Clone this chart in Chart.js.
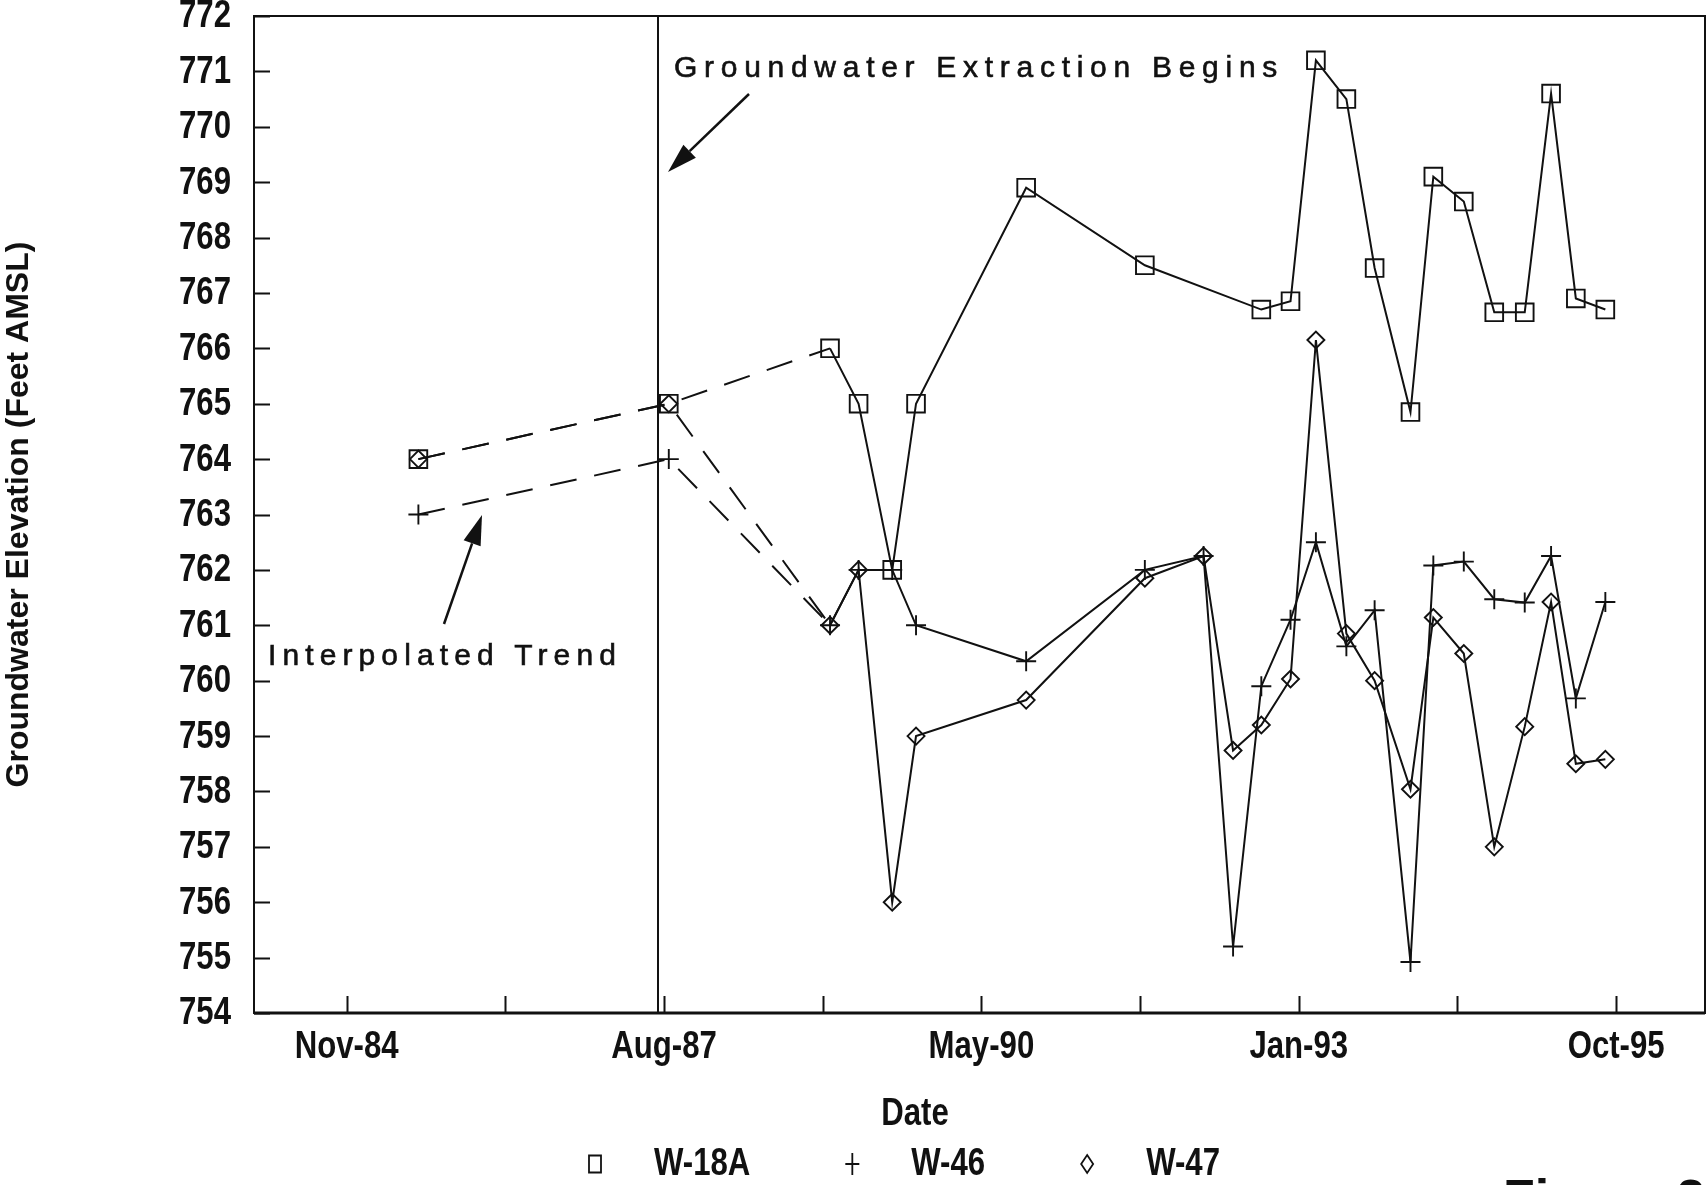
<!DOCTYPE html>
<html>
<head>
<meta charset="utf-8">
<title>Groundwater Elevation</title>
<script src="https://cdn.jsdelivr.net/npm/chart.js@4.4.1/dist/chart.umd.min.js"></script>
<style>
  html, body { margin: 0; padding: 0; background: #fff; }
  #wrap { width: 1708px; height: 1185px; }
</style>
</head>
<body>
<div id="wrap"><canvas id="chart" width="1708" height="1185"></canvas></div>
<script>
// sampling dates shared by the three wells
const sampleDates = [
  '1985-06-28', '1987-08-26', '1989-01-15', '1989-04-15', '1989-07-30', '1989-10-13',
  '1990-09-25', '1991-10-04', '1992-04-06', '1992-07-08', '1992-10-05', '1993-01-05',
  '1993-03-26', '1993-06-30', '1993-09-27', '1994-01-18', '1994-03-31', '1994-07-05',
  '1994-10-09', '1995-01-13', '1995-04-06', '1995-06-23', '1995-09-24'
];

// elevations, feet AMSL (null = not measured)
const w18a = [764.0, 765.0, 766.0, 765.0, 762.0, 765.0, 768.9, 767.5, null, null, 766.7, 766.85,
  771.2, 770.5, 767.45, 764.85, 769.1, 768.65, 766.65, 766.65, 770.6, 766.9, 766.7];
const w46 = [763.0, 764.0, 761.0, 762.0, 762.0, 761.0, 760.35, 762.0, 762.25, 755.2, 759.9, 761.1,
  762.5, 760.62, 761.27, 754.92, 762.08, 762.15, 761.47, 761.41, 762.25, 759.68, 761.42];
const w47 = [764.0, 765.0, 761.0, 762.0, 756.0, 759.0, 759.65, 761.85, 762.25, 758.74, 759.2, 760.03,
  766.15, 760.85, 760.0, 758.04, 761.14, 760.49, 757.0, 759.17, 761.42, 758.5, 758.58];

// date axis in spreadsheet day numbers, a tick every 500 days
const xMin = 30708, xMax = 35280;
const xTickValues = [31000, 31500, 32000, 32500, 33000, 33500, 34000, 34500, 35000];
const xTickLabels = ['Nov-84', '', 'Aug-87', '', 'May-90', '', 'Jan-93', '', 'Oct-95'];
const yMin = 754, yMax = 772;

const extractionStart = '1987-07-23';
const trendCount = 3; // first three samples are joined by the interpolated trend

function toSerial(s) {
  const [y, m, d] = s.split('-').map(Number);
  return Math.round((Date.UTC(y, m - 1, d) - Date.UTC(1899, 11, 30)) / 86400000);
}

function toPoints(values) {
  return sampleDates.map((d, i) => ({ x: toSerial(d), y: values[i] }))
    .filter(p => p.y !== null);
}

const INK = '#111';
const SANS = "'Liberation Sans', Arial, sans-serif";
const NARROW_FONT = 'bold 38px ' + SANS;
const SQUEEZE = 0.82; // Arial Narrow is Arial at 82% width

// bold narrow text: Liberation Sans squeezed horizontally
function narrowText(ctx, text, x, y, align) {
  ctx.save();
  ctx.font = NARROW_FONT;
  ctx.textAlign = align;
  ctx.textBaseline = 'middle';
  ctx.translate(x, y);
  ctx.scale(SQUEEZE, 1);
  ctx.fillText(text, 0, 0);
  ctx.restore();
}

function narrowWidth(ctx, text) {
  ctx.save();
  ctx.font = NARROW_FONT;
  const w = ctx.measureText(text).width * SQUEEZE;
  ctx.restore();
  return w;
}

function series(label, values, style, radius) {
  return {
    label,
    data: toPoints(values),
    borderColor: INK,
    borderWidth: 2,
    pointStyle: style,
    pointRadius: radius,
    pointHoverRadius: radius,
    pointBorderWidth: 1.9,
    pointBorderColor: INK,
    pointBackgroundColor: 'rgba(0,0,0,0)',
    tension: 0,
    clip: false,
    segment: {
      borderDash: ctx => ctx.p1DataIndex < trendCount ? [27, 18] : undefined
    }
  };
}

// box, inward tick marks, tick labels and the extraction start line
const frame = {
  id: 'frame',
  afterDatasetsDraw(chart) {
    const { ctx, chartArea: a, scales: { x, y } } = chart;
    ctx.save();
    ctx.strokeStyle = INK;
    ctx.fillStyle = INK;
    ctx.lineWidth = 2;
    ctx.strokeRect(a.left, a.top, a.right - a.left, a.bottom - a.top);
    ctx.beginPath();
    y.ticks.forEach(t => {
      const py = Math.round(y.getPixelForValue(t.value)) + 0.5;
      ctx.moveTo(a.left, py);
      ctx.lineTo(a.left + 16, py);
    });
    x.ticks.forEach(t => {
      const px = Math.round(x.getPixelForValue(t.value)) + 0.5;
      ctx.moveTo(px, a.bottom);
      ctx.lineTo(px, a.bottom - 17);
    });
    ctx.stroke();
    ctx.lineWidth = 3;
    ctx.beginPath();
    ctx.moveTo(a.left, a.bottom);
    ctx.lineTo(a.right, a.bottom);
    ctx.stroke();
    ctx.lineWidth = 2;
    const ex = x.getPixelForValue(toSerial(extractionStart));
    ctx.beginPath();
    ctx.moveTo(ex, a.top);
    ctx.lineTo(ex, a.bottom);
    ctx.stroke();

    y.ticks.forEach(t => {
      narrowText(ctx, String(t.value), a.left - 23, y.getPixelForValue(t.value) + 1, 'right');
    });
    x.ticks.forEach((t, i) => {
      if (xTickLabels[i]) narrowText(ctx, xTickLabels[i], x.getPixelForValue(t.value), a.bottom + 35, 'center');
    });
    narrowText(ctx, 'Date', 915, 1115, 'center');
    ctx.restore();
  }
};

function arrow(ctx, x0, y0, x1, y1) {
  const ang = Math.atan2(y1 - y0, x1 - x0);
  const len = 30, half = 9;
  const bx = x1 - Math.cos(ang) * len, by = y1 - Math.sin(ang) * len;
  ctx.beginPath();
  ctx.moveTo(x0, y0);
  ctx.lineTo(bx, by);
  ctx.stroke();
  ctx.beginPath();
  ctx.moveTo(x1, y1);
  ctx.lineTo(bx + Math.sin(ang) * half, by - Math.cos(ang) * half);
  ctx.lineTo(bx - Math.sin(ang) * half, by + Math.cos(ang) * half);
  ctx.closePath();
  ctx.fill();
}

// spaced-out label stretched over a given width
function spacedText(ctx, text, x, y, width) {
  ctx.letterSpacing = '0px';
  const natural = ctx.measureText(text).width;
  ctx.letterSpacing = ((width - natural) / text.length) + 'px';
  ctx.fillText(text, x, y);
  ctx.lineWidth = 0.6;
  ctx.strokeText(text, x, y);
  ctx.letterSpacing = '0px';
}

const notes = {
  id: 'notes',
  afterDraw(chart) {
    const ctx = chart.ctx;
    ctx.save();
    ctx.fillStyle = INK;
    ctx.strokeStyle = INK;
    ctx.font = '30px ' + SANS;
    ctx.textBaseline = 'alphabetic';
    spacedText(ctx, 'Groundwater Extraction Begins', 674, 77, 610);
    spacedText(ctx, 'Interpolated Trend', 268, 665, 354);
    ctx.lineWidth = 2.5;
    arrow(ctx, 749, 94, 668, 172);
    arrow(ctx, 444, 624, 482, 515);
    ctx.font = 'bold 52px ' + SANS;
    ctx.fillText('Figure 2', 1503, 1216);
    ctx.restore();
  }
};

function drawMarker(ctx, style, x, y) {
  ctx.beginPath();
  if (style === 'rect') {
    ctx.rect(x - 6, y - 8.5, 12, 17);
  } else if (style === 'cross') {
    ctx.moveTo(x - 7, y); ctx.lineTo(x + 7, y);
    ctx.moveTo(x, y - 11); ctx.lineTo(x, y + 11);
  } else {
    ctx.moveTo(x, y - 9); ctx.lineTo(x + 6, y);
    ctx.lineTo(x, y + 9); ctx.lineTo(x - 6, y);
    ctx.closePath();
  }
  ctx.stroke();
}

const wellLegend = {
  id: 'wellLegend',
  afterDraw(chart) {
    const ctx = chart.ctx;
    ctx.save();
    ctx.strokeStyle = INK;
    ctx.fillStyle = INK;
    ctx.lineWidth = 1.8;
    let x = 595;
    const y = 1164;
    chart.data.datasets.forEach(ds => {
      drawMarker(ctx, ds.pointStyle, x, y);
      const tx = x + 59;
      narrowText(ctx, ds.label, tx, y + 1, 'left');
      x = tx + narrowWidth(ctx, ds.label) + 102;
    });
    ctx.restore();
  }
};

new Chart(document.getElementById('chart'), {
  type: 'line',
  data: {
    datasets: [
      series('W-18A', w18a, 'rect', 12.5),
      series('W-46', w46, 'cross', 10),
      series('W-47', w47, 'rectRot', 8.5)
    ]
  },
  options: {
    responsive: false,
    animation: false,
    events: [],
    layout: { autoPadding: false, padding: { left: 0, top: 16, right: 3, bottom: 0 } },
    plugins: { legend: { display: false }, tooltip: { enabled: false } },
    scales: {
      x: {
        type: 'linear',
        min: xMin,
        max: xMax,
        afterFit: s => { s.height = 172; },
        afterBuildTicks: s => { s.ticks = xTickValues.map(v => ({ value: v })); },
        grid: { display: false, drawTicks: false },
        border: { display: false },
        ticks: { display: false }
      },
      y: {
        min: yMin,
        max: yMax,
        afterFit: s => { s.width = 254; },
        grid: { display: false, drawTicks: false },
        border: { display: false },
        ticks: { display: false, stepSize: 1 },
        title: {
          display: true,
          text: 'Groundwater Elevation (Feet AMSL)',
          color: INK,
          font: { family: SANS, weight: 'bold', size: 32 },
          padding: { top: 0, bottom: 0 }
        }
      }
    }
  },
  plugins: [frame, notes, wellLegend]
});
</script>
</body>
</html>
